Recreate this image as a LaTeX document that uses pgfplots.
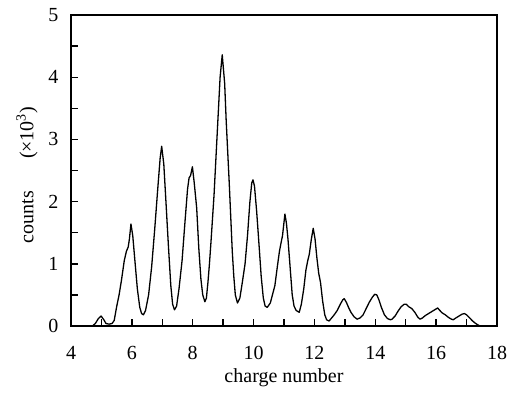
\documentclass[border=0pt]{standalone}
\usepackage{pgfplots}
\pgfplotsset{compat=1.18}
\usepackage{fontspec}
\setmainfont{Liberation Serif}
\begin{document}
\begin{tikzpicture}
\begin{axis}[
  scale only axis,
  width=426pt, height=311pt,
  xmin=4, xmax=18, ymin=0, ymax=5,
  xtick={4,6,...,18}, minor xtick={5,7,...,17},
  ytick={0,1,...,5}, minor ytick={0.5,1.5,...,4.5},
  tick pos=left, tick align=inside,
  major tick length=7pt, minor tick length=7pt,
  every tick/.style={black, line width=1.4pt},
  axis line style={line width=1.4pt},
  /pgf/number format/assume math mode=true,
  ticklabel style={font=\fontsize{20}{22}\selectfont},
  xticklabel style={yshift=-17pt},
  yticklabel style={xshift=-9pt},
  xlabel={charge number},
  ylabel={counts\hspace{1.6em}(\texttimes10\textsuperscript{3})},
  label style={font=\fontsize{20}{22}\selectfont},
  xlabel style={at={(axis description cs:0.5,-0.1672)}, anchor=center},
  ylabel style={at={(axis description cs:-0.1033,0.4855)}, anchor=center},
]
\addplot[black, line width=1.3pt, line join=round] coordinates {
(4.6,0) (4.7,0.0) (4.8,0.04) (4.9,0.12) (4.99,0.16) (5.08,0.1) (5.15,0.04) (5.25,0.03) (5.35,0.04) (5.42,0.09)
(5.5,0.31) (5.58,0.5) (5.66,0.74) (5.75,1.05) (5.82,1.2) (5.88,1.27) (5.92,1.4) (5.97,1.64) (6.03,1.45) (6.1,1.05) (6.18,0.6) (6.26,0.3) (6.32,0.2) (6.38,0.18)
(6.45,0.25) (6.55,0.5) (6.65,0.95) (6.75,1.55) (6.85,2.2) (6.93,2.7) (6.98,2.89) (7.05,2.6) (7.12,2.0) (7.2,1.3) (7.28,0.65) (7.34,0.35) (7.4,0.26) (7.47,0.32)
(7.55,0.6) (7.65,1.05) (7.75,1.7) (7.83,2.2) (7.88,2.38) (7.93,2.42) (7.99,2.56) (8.05,2.3) (8.13,1.9) (8.2,1.25) (8.27,0.75) (8.33,0.5) (8.4,0.39)
(8.45,0.45) (8.5,0.7) (8.55,1.0) (8.6,1.35) (8.7,2.1) (8.8,3.05) (8.9,4.0) (8.97,4.36) (9.05,3.9) (9.1,3.3) (9.2,2.3) (9.3,1.2) (9.35,0.8) (9.4,0.5) (9.47,0.37)
(9.55,0.45) (9.63,0.7) (9.72,1.0) (9.8,1.45) (9.88,2.0) (9.94,2.3) (9.98,2.35) (10.03,2.25) (10.1,1.85) (10.18,1.3) (10.25,0.8) (10.32,0.45) (10.38,0.32) (10.45,0.3)
(10.55,0.37) (10.62,0.5) (10.7,0.65) (10.78,0.95) (10.85,1.2) (10.9,1.33) (10.95,1.45) (11.03,1.8) (11.08,1.65) (11.13,1.4) (11.2,0.95) (11.27,0.5) (11.33,0.32) (11.4,0.25) (11.5,0.22)
(11.57,0.35) (11.65,0.6) (11.72,0.9) (11.78,1.05) (11.83,1.15) (11.9,1.4) (11.96,1.57) (12.02,1.4) (12.08,1.1) (12.14,0.85) (12.2,0.7) (12.27,0.4) (12.34,0.18) (12.4,0.1) (12.48,0.08) (12.55,0.12)
(12.65,0.18) (12.75,0.25) (12.85,0.35) (12.93,0.42) (12.98,0.44) (13.05,0.38) (13.12,0.3) (13.2,0.22) (13.3,0.15) (13.4,0.11) (13.5,0.13)
(13.6,0.18) (13.7,0.28) (13.8,0.38) (13.9,0.46) (13.98,0.51) (14.05,0.5) (14.12,0.42) (14.2,0.3) (14.3,0.18) (14.4,0.12) (14.5,0.1) (14.55,0.11)
(14.65,0.16) (14.75,0.24) (14.85,0.31) (14.95,0.35) (15.02,0.35) (15.1,0.31) (15.2,0.28) (15.3,0.22) (15.4,0.14) (15.47,0.11) (15.55,0.13)
(15.65,0.17) (15.75,0.2) (15.85,0.23) (15.95,0.26) (16.05,0.29) (16.12,0.25) (16.2,0.21) (16.3,0.18) (16.4,0.14) (16.5,0.11) (16.56,0.1)
(16.65,0.13) (16.75,0.16) (16.85,0.19) (16.93,0.2) (17.0,0.18) (17.1,0.13) (17.2,0.08) (17.3,0.04) (17.4,0.01) (17.45,0.0) (17.6,0.0)
};
\end{axis}
\pgfresetboundingbox
\path[use as bounding box] (current axis.south west) ++(-71pt,-68pt) rectangle ([xshift=18pt,yshift=15pt]current axis.north east);
\end{tikzpicture}
\end{document}
